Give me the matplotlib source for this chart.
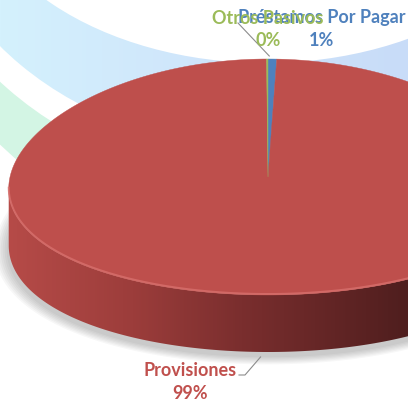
import numpy as np
import matplotlib.pyplot as plt
from matplotlib.patches import Ellipse, Polygon
from matplotlib.colors import LinearSegmentedColormap

# pasivos: data order is the drawing order, clockwise from 12 o'clock
labels = ['Préstamos Por Pagar', 'Provisiones', 'Otros Pasivos']
values = [0.6, 99.3, 0.1]
slice_colors = ['#4f81bd', '#be4f4c', '#9bbb59']
label_colors = ['#4f81bd', '#c0504d', '#9bbb59']

pct = np.array(values) / sum(values) * 100

# pie geometry in pixel units
cx, cy = 268, 178
rx, ry = 258, 118
depth = 57
persp = 0.1


def proj(t, z=0.0):
    x = cx + rx * np.cos(t) * (1 + persp * np.sin(t))
    y = cy + ry * np.sin(t) + z
    return x, y


fig = plt.figure(figsize=(4.08, 4.02), dpi=100)
ax = fig.add_axes([0, 0, 1, 1])

# decorative rings in the background
rc = (265, -136)
ax.add_patch(Ellipse(rc, 768, 778, fc='#d3f5e4', ec='none', zorder=0.5))
ax.add_patch(Ellipse(rc, 728, 638, fc='white', ec='none', zorder=0.7))
ring_cmap = LinearSegmentedColormap.from_list('ring', ['#d4f1fd', '#cfe5fb', '#c8dcf8'])
blue_ring = Ellipse(rc, 690, 572, transform=ax.transData)
im = ax.imshow(np.linspace(0, 1, 256)[None, :], extent=[0, 408, 402, 0],
               cmap=ring_cmap, aspect='auto', zorder=1)
im.set_clip_path(blue_ring)
ax.add_patch(Ellipse(rc, 600, 400, fc='white', ec='none', zorder=1.5))

# soft shadow under the pie
tt = np.linspace(0, 2 * np.pi, 300)
for s in np.linspace(2, 14, 7):
    x = cx + (rx + s) * np.cos(tt) * (1 + persp * np.sin(tt))
    y = cy + depth + 4 + (ry + 0.6 * s) * np.sin(tt)
    ax.add_patch(Polygon(np.column_stack([x, y]), fc='black', ec='none',
                         alpha=0.03, zorder=3))

# front side of the cylinder, shaded left to right
tt = np.linspace(-np.pi / 2, 3 * np.pi / 2, 3000)
xx, _ = proj(tt)
t_r, t_l = tt[np.argmax(xx)], tt[np.argmin(xx)]
ts = np.linspace(t_r, t_l, 300)
xs, ys = proj(ts)
side = Polygon(np.column_stack([np.r_[xs, xs[::-1]], np.r_[ys, ys[::-1] + depth]]),
               closed=True, fc='none', ec='none', zorder=4)
ax.add_patch(side)
side_cmap = LinearSegmentedColormap.from_list(
    'side', [(0, '#b64b48'), (0.24, '#9c3d3b'), (0.45, '#7a2e2e'),
             (0.77, '#4f1e1e'), (1, '#451a1a')])
x_lo, x_hi = cx - rx * 1.01, cx + rx * 1.01
side_im = ax.imshow(np.linspace(0, 1, 512)[None, :], extent=[x_lo, x_hi, 402, 0],
                    cmap=side_cmap, aspect='auto', zorder=4)
side_im.set_clip_path(side)

# top face slices
bounds = -np.pi / 2 + 2 * np.pi * np.concatenate([[0], np.cumsum(pct) / 100])
for i in range(len(values)):
    t = np.linspace(bounds[i], bounds[i + 1], max(int(4 * pct[i]), 4))
    px, py = proj(t)
    pts = np.column_stack([np.r_[cx, px], np.r_[cy, py]])
    ax.add_patch(Polygon(pts, closed=True, fc=slice_colors[i], ec=slice_colors[i],
                         lw=0.3, zorder=5))

# bevel highlight along the front rim
ax.plot(xs, ys - 1, color='#d8706d', lw=1.4, alpha=0.8, zorder=6)

# data labels with leader lines
font = dict(family=['Lato', 'DejaVu Sans'], fontweight='bold', fontsize=13)
label_pos = [(322, 18), (190, 371), (268, 18)]
line_gap = 23
for i in range(len(values)):
    lx, ly = label_pos[i]
    ax.text(lx, ly, labels[i], color=label_colors[i], ha='center', va='center',
            zorder=8, **font)
    ax.text(lx, ly + line_gap, '%.0f%%' % pct[i], color=label_colors[i],
            ha='center', va='center', zorder=8, **font)

mid_otros = (bounds[2] + bounds[3]) / 2
px, py = proj(mid_otros)
ax.plot([238, px + 2], [24, py - 3], color='#8c8c8c', lw=0.8, zorder=7)
mid_prov = (bounds[1] + bounds[2]) / 2
px, py = proj(mid_prov, depth)
ax.plot([239, 245, px - 3], [376, 376, py + 5], color='#8c8c8c', lw=0.8, zorder=7)

ax.set_xlim(0, 408)
ax.set_ylim(402, 0)
ax.axis('off')
fig.savefig('out.png', dpi=100)
